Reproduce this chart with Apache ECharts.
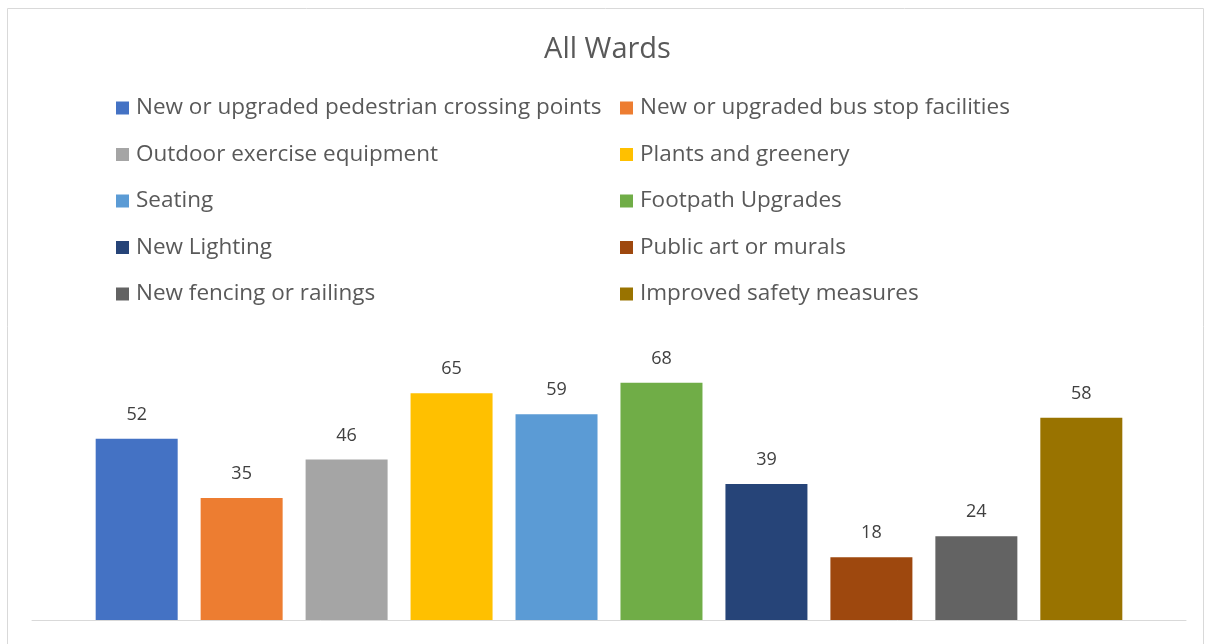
<!DOCTYPE html>
<html>
<head>
<meta charset="utf-8">
<script src="https://cdn.jsdelivr.net/npm/echarts@6/dist/echarts.min.js"></script>
<style>
  html, body { margin: 0; padding: 0; background: #fff; }
  #chart { width: 1215px; height: 644px; }
</style>
</head>
<body>
<div id="chart"></div>
<script>
// 各项改善措施的票数
var names = [
    'New or upgraded pedestrian crossing points',
    'New or upgraded bus stop facilities',
    'Outdoor exercise equipment',
    'Plants and greenery',
    'Seating',
    'Footpath Upgrades',
    'New Lighting',
    'Public art or murals',
    'New fencing or railings',
    'Improved safety measures'
];
var values = [52, 35, 46, 65, 59, 68, 39, 18, 24, 58];
var colors = ['#4472C4', '#ED7D31', '#A5A5A5', '#FFC000', '#5B9BD5',
              '#70AD47', '#264478', '#9E480E', '#636363', '#997300'];

var font = '"Open Sans", "Noto Sans", sans-serif';
var myChart = echarts.init(document.getElementById('chart'));

var series = [];
for (var i = 0; i < names.length; i++) {
    series.push({
        name: names[i],
        type: 'bar',
        data: [values[i]],
        barWidth: 82,
        barGap: '28%',
        itemStyle: { color: colors[i] },
        label: {
            show: true,
            position: 'top',
            distance: 15,
            color: '#404040',
            fontSize: 18,
            fontFamily: font
        }
    });
}

// 图例分左右两列
var leftCol = [], rightCol = [];
names.forEach(function (n, i) {
    if (i % 2 == 0) leftCol.push(n); else rightCol.push(n);
});
var legendBase = {
    orient: 'vertical',
    top: 90,
    itemWidth: 13,
    itemHeight: 13,
    itemGap: 20.5,
    icon: 'rect',
    textStyle: {
        color: '#595959',
        fontSize: 22.5,
        fontFamily: font,
        lineHeight: 26,
        padding: [0, 0, 0, 2]
    }
};

var option = {
    animation: false,
    title: {
        text: 'All Wards',
        left: 'center',
        top: 30,
        textStyle: {
            color: '#595959',
            fontSize: 29,
            fontWeight: 'normal',
            fontFamily: font
        }
    },
    legend: [
        Object.assign({}, legendBase, { left: 111, data: leftCol }),
        Object.assign({}, legendBase, { left: 615, data: rightCol })
    ],
    grid: {
        left: 32,
        right: 29,
        top: 341,
        bottom: 24
    },
    xAxis: {
        type: 'category',
        data: [''],
        axisLine: { lineStyle: { color: '#d9d9d9', width: 1 } },
        axisTick: { show: false },
        axisLabel: { show: false }
    },
    yAxis: {
        type: 'value',
        min: 0,
        max: 80,
        show: false,
        splitLine: { show: false }
    },
    graphic: [{
        type: 'rect',
        shape: { x: 7.5, y: 8.5, width: 1196, height: 700 },
        style: { fill: 'none', stroke: '#d9d9d9', lineWidth: 1 },
        silent: true
    }],
    series: series
};
myChart.setOption(option);
</script>
</body>
</html>
